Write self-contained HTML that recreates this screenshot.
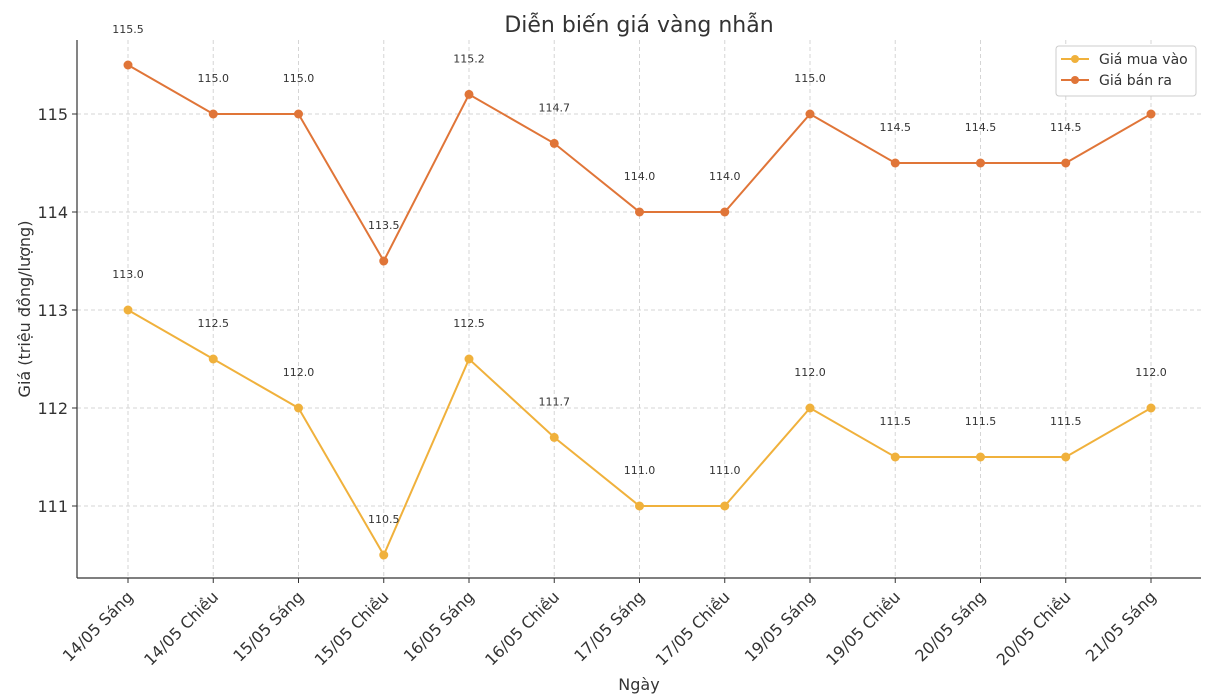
<!DOCTYPE html>
<html><head><meta charset="utf-8"><style>
html,body{margin:0;padding:0;background:#fff;width:1210px;height:700px;overflow:hidden}
svg text{font-family:"DejaVu Sans","Liberation Sans",sans-serif}
</style></head><body>
<svg id="chart" width="1210" height="700" xmlns="http://www.w3.org/2000/svg">
<text x="639" y="32" text-anchor="middle" font-size="22" fill="#333">Diễn biến giá vàng nhẫn</text>
<text x="639" y="690" text-anchor="middle" font-size="16" fill="#333">Ngày</text>
<text transform="translate(30,309) rotate(-90)" text-anchor="middle" font-size="16" fill="#333">Giá (triệu đồng/lượng)</text>
<g id="grid"></g><g id="axes"></g><g id="series"></g>
<g>
<rect x="1056" y="46" width="140" height="50" rx="3" fill="#fff" stroke="#ccc"/>
<g><line x1="1061" y1="59" x2="1089" y2="59" stroke="#F0B13C" stroke-width="2"/><circle cx="1075" cy="59" r="4" fill="#F0B13C"/><text x="1099" y="64" font-size="14" fill="#333">Giá mua vào</text></g>
<g><line x1="1061" y1="80" x2="1089" y2="80" stroke="#E07538" stroke-width="2"/><circle cx="1075" cy="80" r="4" fill="#E07538"/><text x="1099" y="85" font-size="14" fill="#333">Giá bán ra</text></g>
</g>
</svg>
<script>
const categories=["14/05 Sáng","14/05 Chiều","15/05 Sáng","15/05 Chiều","16/05 Sáng","16/05 Chiều","17/05 Sáng","17/05 Chiều","19/05 Sáng","19/05 Chiều","20/05 Sáng","20/05 Chiều","21/05 Sáng"];
const buyValues=[113.0,112.5,112.0,110.5,112.5,111.7,111.0,111.0,112.0,111.5,111.5,111.5,112.0];
const sellValues=[115.5,115.0,115.0,113.5,115.2,114.7,114.0,114.0,115.0,114.5,114.5,114.5,115.0];
const yTicks=[111,112,113,114,115];
const NS="http://www.w3.org/2000/svg";
const L=77,R=1201,T=40,B=578;
function xs(i){return 128+i*85.25;}
function ys(v){return 114-(v-115)*98;}
function mk(tag,attrs,parent){const e=document.createElementNS(NS,tag);for(const k in attrs)e.setAttribute(k,attrs[k]);parent.appendChild(e);return e;}
const grid=document.getElementById('grid'),axes=document.getElementById('axes'),ser=document.getElementById('series');
yTicks.forEach(t=>{
 const g=mk('line',{x1:L,x2:R,y1:ys(t),y2:ys(t),stroke:'#d5d5d5','stroke-dasharray':'4,3'},grid);
 
 
 mk('line',{x1:L-5,x2:L,y1:ys(t),y2:ys(t),stroke:'#333'},axes);
 const tx=mk('text',{x:L-9,y:ys(t)+6,'text-anchor':'end','font-size':'16',fill:'#333'},axes);
 tx.textContent=t;
 
 
});
categories.forEach((c,i)=>{
 const g=mk('line',{x1:xs(i),x2:xs(i),y1:T,y2:B,stroke:'#d5d5d5','stroke-dasharray':'4,3'},grid);
 
 
 mk('line',{x1:xs(i),x2:xs(i),y1:B,y2:B+5,stroke:'#333'},axes);
 const tx=mk('text',{x:xs(i)+6,y:B+20,'text-anchor':'end','font-size':'16',fill:'#333',transform:`rotate(-45 ${xs(i)+6} ${B+20})`},axes);
 tx.textContent=c;
 
 
});
const la=mk('line',{x1:L,x2:L,y1:T,y2:B,stroke:'#333','stroke-width':'1.2'},axes);


const ba=mk('line',{x1:L,x2:R,y1:B,y2:B,stroke:'#333','stroke-width':'1.2'},axes);


function drawSeries(vals,color,name){
 const pl=mk('polyline',{points:vals.map((v,i)=>xs(i)+','+ys(v)).join(' '),fill:'none',stroke:color,'stroke-width':'2'},ser);
 
 
 vals.forEach((v,i)=>{
  const c=mk('circle',{cx:xs(i),cy:ys(v),r:4.5,fill:color},ser);
  
  
  const t=mk('text',{x:xs(i),y:ys(v)-32,'text-anchor':'middle','font-size':'11',fill:'#333'},ser);
  t.textContent=v.toFixed(1);
  
  
 });
}
drawSeries(buyValues,'#F0B13C','buy');
drawSeries(sellValues,'#E07538','sell');
</script>
</body></html>
